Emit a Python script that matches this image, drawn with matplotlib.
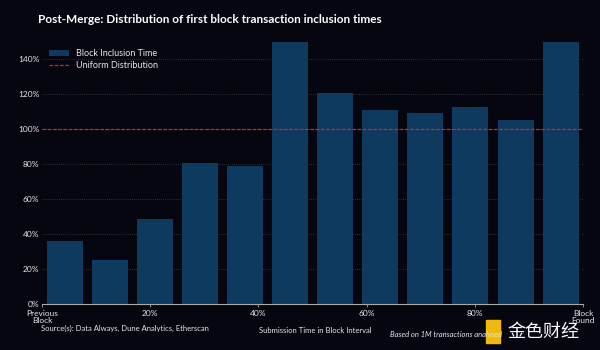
import matplotlib.pyplot as plt
from matplotlib.patches import Rectangle
from matplotlib.ticker import FuncFormatter

# share of first-block inclusions per 1/12 slice of the block interval (% of uniform)
bins = list(range(12))
inclusion = [36, 25, 48.5, 81, 79, 152, 121, 111, 109.5, 113, 105.5, 152]
uniform = 100
xtick_pos = [0, 20, 40, 60, 80, 100]
xtick_lbl = ['Previous\nBlock', '20%', '40%', '60%', '80%', 'Block\nFound']

bg = '#05060f'
bar_c = '#0f3a60'
txt = '#e6e6e6'

plt.rcParams['font.family'] = ['Lato', 'DejaVu Sans']

fig = plt.figure(figsize=(6, 3.5), dpi=100, facecolor=bg)
ax = fig.add_axes([0.07, 0.131, 0.902, 0.749], facecolor=bg)

step = 100 / len(bins)
centers = [(b + 0.5) * step for b in bins]
ax.bar(centers, inclusion, width=step * 0.8, color=bar_c, label='Block Inclusion Time', zorder=2)
ax.axhline(uniform, color='#c82a1c', lw=0.9, ls=(0, (3, 1.2)), label='Uniform Distribution', zorder=3)

ax.set_xlim(0, 100)
ax.set_ylim(0, 150)
ax.set_yticks(range(0, 141, 20))
ax.yaxis.set_major_formatter(FuncFormatter(lambda v, p: f'{int(v)}%'))
ax.set_xticks(xtick_pos)
ax.set_xticklabels(xtick_lbl, linespacing=1.0)
ax.tick_params(axis='both', colors=txt, labelsize=6, length=0, pad=2)
ax.tick_params(axis='x', length=2, color='#888888')
ax.grid(axis='y', color='#555555', lw=0.5, ls=(0, (1, 2)), zorder=1)

for s in ['top', 'right', 'left']:
    ax.spines[s].set_visible(False)
ax.spines['bottom'].set_color('#aaaaaa')
ax.spines['bottom'].set_linewidth(0.8)

h, l = ax.get_legend_handles_labels()
ax.legend(h[::-1], l[::-1], loc='upper left', bbox_to_anchor=(0.0, 1.0), frameon=False, fontsize=6.5,
          labelcolor=txt, handlelength=2.2, handleheight=0.6, borderaxespad=0.4, labelspacing=0.3)

fig.text(0.063, 0.945, 'Post-Merge: Distribution of first block transaction inclusion times',
         color='white', fontsize=8.5, fontweight='bold', va='center')
fig.text(0.068, 0.062, 'Source(s): Data Always, Dune Analytics, Etherscan', color=txt, fontsize=5.5, va='center')
fig.text(0.525, 0.057, 'Submission Time in Block Interval', color=txt, fontsize=5.5, va='center', ha='center')
fig.text(0.65, 0.045, 'Based on 1M transactions analysed', color=txt, fontsize=5.5, va='center',
         style='italic')
fig.text(0.905, 0.052, '金色财经', color='white', fontsize=13, va='center', ha='center',
         family=['Noto Sans CJK SC', 'DejaVu Sans'])
fig.add_artist(Rectangle((0.81, 0.02), 0.024, 0.065, transform=fig.transFigure, color='#f0b90b'))

fig.savefig('out.png', facecolor=bg)
